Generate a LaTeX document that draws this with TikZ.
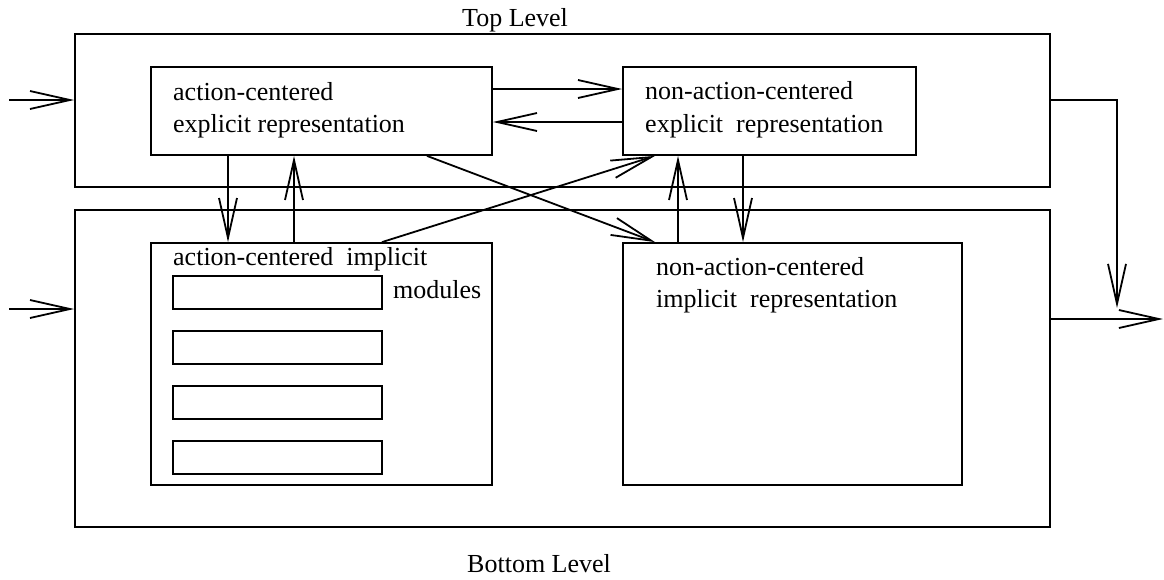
\documentclass[tikz,border=0pt]{standalone}
\usepackage{fontspec}
\setmainfont{Liberation Serif}
\usetikzlibrary{arrows.meta,fit}
\begin{document}
\begin{tikzpicture}[x=1pt,y=-1pt,
  every node/.style={font=\fontsize{26}{32}\selectfont},
  box/.style={draw,line width=1.8pt,inner sep=0pt,rectangle},
  label/.style={anchor=base west,inner sep=0pt},
  link/.style={line width=1.8pt,-{Straight Barb[length=40pt,width=18pt,line width=1.8pt]}},
  plain/.style={line width=1.8pt}]
\useasboundingbox (0,0) rectangle (1164,579);

% outer level boxes
\node[box,fit={(75,34) (1050,187)}] (top) {};
\node[box,fit={(75,210) (1050,527)}] (bot) {};

% inner representation boxes
\node[box,fit={(151,67) (492,155)}] (ace) {};
\node[box,fit={(623,67) (916,155)}] (nace) {};
\node[box,fit={(151,243) (492,485)}] (aci) {};
\node[box,fit={(623,243) (962,485)}] (naci) {};

% implicit modules
\node[box,fit={(173,276) (382,309)}] (m1) {};
\node[box,fit={(173,331) (382,364)}] (m2) {};
\node[box,fit={(173,386) (382,419)}] (m3) {};
\node[box,fit={(173,441) (382,474)}] (m4) {};

% labels
\node[label] (ttop) at (462,26) {Top Level};
\node[label] (tbot) at (467,572) {Bottom Level};
\node[label] (tace1) at (173,100) {action-centered};
\node[label] (tace2) at (173,132) {explicit representation};
\node[label] (tnace1) at (645,99) {non-action-centered};
\node[label] (tnace2) at (645,132) {explicit\ \ representation};
\node[label] (taci) at (173,265) {action-centered\ \ implicit};
\node[label] (tmod) at (393,298) {modules};
\node[label] (tnaci1) at (656,275) {non-action-centered};
\node[label] (tnaci2) at (656,307) {implicit\ \ representation};

% inputs
\coordinate (in1) at (9,100);
\coordinate (in2) at (9,309);
\draw[link] (in1) -- (in1 -| top.west);
\draw[link] (in2) -- (in2 -| bot.west);

% explicit <-> explicit
\draw[link] (492,89) coordinate (a1) -- (a1 -| nace.west);
\draw[link] (623,122) coordinate (a2) -- (a2 -| ace.east);

% top <-> bottom
\draw[link] (228,0 |- ace.south) -- (228,0 |- aci.north);
\draw[link] (294,0 |- aci.north) -- (294,0 |- ace.south);
\draw[link] (427,0 |- ace.south) -- (655,0 |- naci.north);
\draw[link] (382,0 |- aci.north) -- (655,0 |- nace.south);
\draw[link] (678,0 |- naci.north) -- (678,0 |- nace.south);
\draw[link] (743,0 |- nace.south) -- (743,0 |- naci.north);

% outputs
\coordinate (out1) at (1117,308);
\coordinate (out2) at (1163,319);
\draw[link] (top.east |- 0,100) -- (1117,100) -- (out1);
\draw[link] (bot.east |- out2) -- (out2);
\end{tikzpicture}
\end{document}
